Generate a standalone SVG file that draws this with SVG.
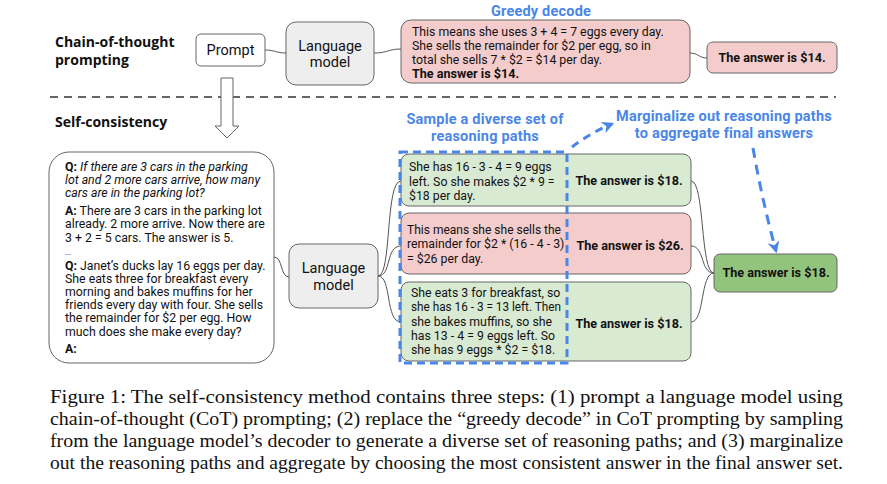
<svg xmlns="http://www.w3.org/2000/svg" width="887" height="484" viewBox="0 0 887 484">
<defs>
<style>
.t{font-family:Roboto,"Liberation Sans",sans-serif;font-size:12.3px;fill:#111}
.b{font-weight:bold}
.i{font-style:italic}
.m{font-size:14.5px}
.ab{font-size:12.6px;font-weight:bold}
.h{font-family:"Open Sans",Roboto,"Liberation Sans",sans-serif;font-size:14px;font-weight:bold;fill:#111}
.blue{font-family:Roboto,"Liberation Sans",sans-serif;font-size:14.5px;font-weight:bold;fill:#4a86e8;letter-spacing:0.2px}
.box{stroke:#666;stroke-width:1}
.conn{fill:none;stroke:#555;stroke-width:1}
.cap{font-family:"Liberation Serif","Times New Roman",serif;font-size:18px;fill:#111}
</style>
<marker id="ah" viewBox="0 0 10 10" refX="8" refY="5" markerWidth="4" markerHeight="4" orient="auto" markerUnits="strokeWidth">
<path d="M0,0 L10,5 L0,10 L3,5 z" fill="#4a86e8"/>
</marker>
</defs>
<rect width="887" height="484" fill="#fff"/>

<text class="h" x="55" y="47">Chain-of-thought</text>
<text class="h" x="55" y="65">prompting</text>
<text class="h" x="55" y="127">Self-consistency</text>

<line x1="50" y1="97" x2="836" y2="97" stroke="#666" stroke-width="2" stroke-dasharray="8,6"/>

<g id="connectors">
<path class="conn" d="M265,50 C275,50 276,53 286,53"/>
<path class="conn" d="M374,53 C388,53 388,49 401,49"/>
<path class="conn" d="M690,53 C698,53 699,58 707,58"/>
<path class="conn" d="M274,257 C283,257 280,277 289,277"/>
<path class="conn" d="M378,276 C392,276 385,181 401,181"/>
<path class="conn" d="M378,276 C392,276 385,246 401,246"/>
<path class="conn" d="M378,276 C392,276 385,322 401,322"/>
<path class="conn" d="M691,181 C705,181 700,273 714,273"/>
<path class="conn" d="M691,246 C705,246 700,273 714,273"/>
<path class="conn" d="M691,322 C705,322 700,273 714,273"/>
<polygon points="221,78 233,78 233,126 239,126 227,138 215,126 221,126" fill="#fff" stroke="#666" stroke-width="1"/>
<path d="M572,147 Q590,133 612,124" fill="none" stroke="#4a86e8" stroke-width="3" stroke-dasharray="8,6" marker-end="url(#ah)"/>
<path d="M753,148 Q762,200 776,251" fill="none" stroke="#4a86e8" stroke-width="3" stroke-dasharray="10,7" marker-end="url(#ah)"/>
</g>

<g id="prompt">
<rect class="box" x="196" y="34" width="69" height="32" rx="5" fill="#fff"/>
<text class="t m" x="230.5" y="55" text-anchor="middle">Prompt</text>
</g>

<g id="lm-top">
<rect class="box" x="286" y="22" width="88" height="63" rx="10" fill="#eeeeee"/>
<text class="t m" x="330" y="51" text-anchor="middle">Language</text>
<text class="t m" x="330" y="67" text-anchor="middle">model</text>
</g>

<g id="greedy">
<text class="blue" x="541" y="16" text-anchor="middle">Greedy decode</text>
<rect class="box" x="401" y="20" width="289" height="63" rx="10" fill="#f4cccc"/>
<text class="t" x="412" y="36">This means she uses 3 + 4 = 7 eggs every day.</text>
<text class="t" x="412" y="50">She sells the remainder for $2 per egg, so in</text>
<text class="t" x="412" y="64">total she sells 7 * $2 = $14 per day.</text>
<text class="t ab" x="412" y="78">The answer is $14.</text>
</g>

<g id="answer-top">
<rect class="box" x="707" y="42" width="130" height="31" rx="6" fill="#f4cccc"/>
<text class="t ab" x="772" y="62" text-anchor="middle">The answer is $14.</text>
</g>

<g id="question">
<rect class="box" x="49" y="152" width="225" height="211" rx="20" fill="#fff"/>
<text class="t" x="65" y="171"><tspan class="b">Q:</tspan> <tspan class="i">If there are 3 cars in the parking</tspan></text>
<text class="t i" x="65" y="184">lot and 2 more cars arrive, how many</text>
<text class="t i" x="65" y="197">cars are in the parking lot?</text>
<text class="t" x="65" y="215"><tspan class="b">A:</tspan> There are 3 cars in the parking lot</text>
<text class="t" x="65" y="228">already. 2 more arrive. Now there are</text>
<text class="t" x="65" y="242">3 + 2 = 5 cars. The answer is 5.</text>
<text class="t" x="65" y="255" style="font-size:8px">...</text>
<text class="t" x="65" y="270"><tspan class="b">Q:</tspan> Janet’s ducks lay 16 eggs per day.</text>
<text class="t" x="65" y="283">She eats three for breakfast every</text>
<text class="t" x="65" y="296">morning and bakes muffins for her</text>
<text class="t" x="65" y="309">friends every day with four. She sells</text>
<text class="t" x="65" y="322">the remainder for $2 per egg. How</text>
<text class="t" x="65" y="336">much does she make every day?</text>
<text class="t b" x="65" y="353">A:</text>
</g>

<g id="lm-bottom">
<rect class="box" x="289" y="244" width="89" height="64" rx="10" fill="#eeeeee"/>
<text class="t m" x="333.5" y="273" text-anchor="middle">Language</text>
<text class="t m" x="333.5" y="290" text-anchor="middle">model</text>
</g>

<g id="path1">
<rect class="box" x="401" y="154" width="290" height="52" rx="8" fill="#d9ead3"/>
<text class="t" x="409" y="171">She has 16 - 3 - 4 = 9 eggs</text>
<text class="t" x="409" y="186">left. So she makes $2 * 9 =</text>
<text class="t" x="409" y="200">$18 per day.</text>
<text class="t ab" x="629" y="185" text-anchor="middle">The answer is $18.</text>
</g>

<g id="path2">
<rect class="box" x="401" y="213" width="290" height="61" rx="8" fill="#f4cccc"/>
<text class="t" x="407" y="234" textLength="154" lengthAdjust="spacingAndGlyphs">This means she she sells the</text>
<text class="t" x="407" y="248">remainder for $2 * (16 - 4 - 3)</text>
<text class="t" x="407" y="263">= $26 per day.</text>
<text class="t ab" x="630" y="250" text-anchor="middle">The answer is $26.</text>
</g>

<g id="path3">
<rect class="box" x="401" y="282" width="290" height="79" rx="8" fill="#d9ead3"/>
<text class="t" x="411" y="297">She eats 3 for breakfast, so</text>
<text class="t" x="411" y="311" textLength="150" lengthAdjust="spacingAndGlyphs">she has 16 - 3 = 13 left. Then</text>
<text class="t" x="411" y="326">she bakes muffins, so she</text>
<text class="t" x="411" y="340">has 13 - 4 = 9 eggs left. So</text>
<text class="t" x="411" y="354">she has 9 eggs * $2 = $18.</text>
<text class="t ab" x="629" y="328" text-anchor="middle">The answer is $18.</text>
</g>

<g id="final">
<rect class="box" x="714" y="254" width="123" height="38" rx="6" fill="#93c47d"/>
<text class="t ab" x="776" y="277" text-anchor="middle">The answer is $18.</text>
</g>

<g id="sample-label">
<text class="blue" x="485" y="124" text-anchor="middle">Sample a diverse set of</text>
<text class="blue" x="485" y="141" text-anchor="middle">reasoning paths</text>
<rect x="400" y="152" width="167" height="211" fill="none" stroke="#4a86e8" stroke-width="3" stroke-dasharray="8,5"/>
</g>

<g id="marginalize-label">
<text class="blue" x="724" y="121" text-anchor="middle">Marginalize out reasoning paths</text>
<text class="blue" x="724" y="138" text-anchor="middle">to aggregate final answers</text>
</g>

<g id="caption">
<text class="cap" x="50" y="403" textLength="793" lengthAdjust="spacingAndGlyphs">Figure 1: The self-consistency method contains three steps: (1) prompt a language model using</text>
<text class="cap" x="50" y="425" textLength="793" lengthAdjust="spacingAndGlyphs">chain-of-thought (CoT) prompting; (2) replace the “greedy decode” in CoT prompting by sampling</text>
<text class="cap" x="50" y="447" textLength="793" lengthAdjust="spacingAndGlyphs">from the language model’s decoder to generate a diverse set of reasoning paths; and (3) marginalize</text>
<text class="cap" x="50" y="469" textLength="793" lengthAdjust="spacingAndGlyphs">out the reasoning paths and aggregate by choosing the most consistent answer in the final answer set.</text>
</g>
</svg>
